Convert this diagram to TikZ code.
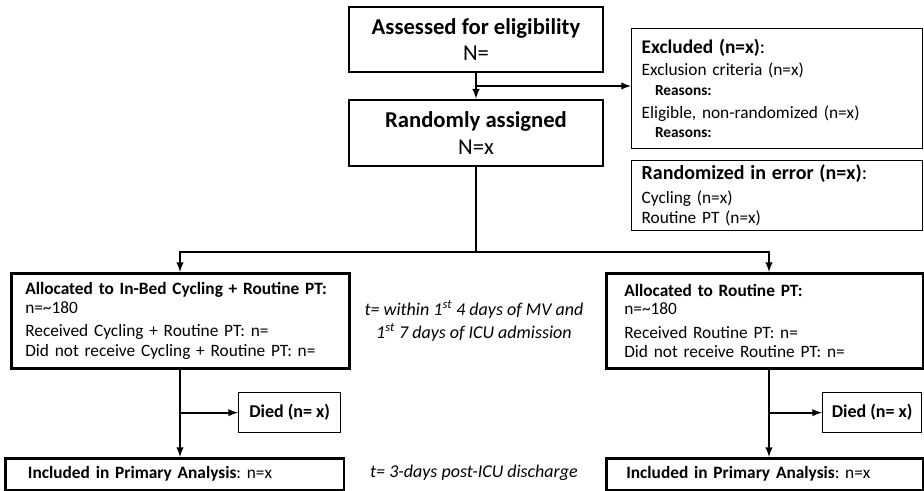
\documentclass[tikz,border=0pt]{standalone}
\usepackage{fontspec}
\setmainfont{Carlito}
\frenchspacing
\usetikzlibrary{positioning, calc}

\begin{document}
\begin{tikzpicture}[x=0.75pt, y=-0.75pt,
    mainbox/.style={draw, line width=1.9pt, rectangle, inner ysep=0pt},
    sidebox/.style={draw, line width=1pt, rectangle, inner ysep=0pt},
    arr/.style={->, >=latex, line width=1.5pt},
    big/.style={font=\fontsize{17}{20}\selectfont},
    small/.style={font=\fontsize{13}{16.5}\selectfont}]
  \useasboundingbox (0,0) rectangle (924,491);
  % top column
  \node[mainbox, big, align=center, minimum width=190.5pt, minimum height=48.75pt]
    (assess) at (476,39.5) {\textbf{Assessed for eligibility}\\N=};
  \node[mainbox, big, align=center, minimum width=190.5pt, minimum height=49.5pt]
    (rand) at (476,133) {\textbf{Randomly assigned}\\N=x};
  % side boxes
  \node[sidebox, small, anchor=north west, align=left, inner xsep=7.5pt,
        text width=203.25pt, minimum height=90pt] (excl) at (631,28) {%
    {\fontsize{14.5}{16.5}\selectfont\textbf{Excluded (n=x)}:}\\
    Exclusion criteria (n=x)\\[-2pt]
    \hspace*{10pt}{\fontsize{11.5}{12}\selectfont\textbf{Reasons:}}\\[1pt]
    Eligible, non-randomized (n=x)\\[-2pt]
    \hspace*{10pt}{\fontsize{11.5}{12}\selectfont\textbf{Reasons:}}};
  \node[sidebox, small, anchor=north west, align=left, inner xsep=7.5pt,
        text width=203.25pt, minimum height=52.5pt] (err) at (631,160) {%
    {\fontsize{15}{16.5}\selectfont\textbf{Randomized in error (n=x)}:}\\[1.5pt]
    Cycling (n=x)\\[-1.5pt]
    Routine PT (n=x)};
  % arms
  \node[mainbox, small, anchor=north west, align=left, inner xsep=10.5pt,
        text width=232.5pt, minimum height=71.25pt] (allocL) at (10,272) {%
    \textbf{Allocated to In-Bed Cycling + Routine PT:}\\[-2.5pt]
    n=\textasciitilde180\\[1pt]
    Received Cycling + Routine PT: n=\\[-2pt]
    Did not receive Cycling + Routine PT: n=};
  \node[mainbox, small, anchor=north west, align=left, inner xsep=13.5pt,
        text width=210.75pt, minimum height=71.25pt] (allocR) at (605,272) {%
    \textbf{Allocated to Routine PT:}\\[-2.5pt]
    n=\textasciitilde180\\[1pt]
    Received Routine PT: n=\\[-2pt]
    Did not receive Routine PT: n=};
  \node[sidebox, anchor=north west, minimum width=76.5pt,
        font=\fontsize{13.5}{16}\selectfont,
        minimum height=30pt] (diedL) at (238,392) {\textbf{Died (n= x)}};
  \node[sidebox, anchor=north west, minimum width=74.25pt,
        font=\fontsize{13.5}{16}\selectfont,
        minimum height=30pt] (diedR) at (822,392) {\textbf{Died (n= x)}};
  \node[mainbox, anchor=north west, align=left, inner xsep=17pt,
        font=\fontsize{13}{15}\selectfont,
        text width=220pt, minimum height=24pt] (inclL) at (4,457) {%
    \textbf{Included in Primary Analysis}: n=x};
  \node[mainbox, anchor=north west, align=left, inner xsep=15pt,
        font=\fontsize{13}{15}\selectfont,
        text width=207.75pt, minimum height=24pt] (inclR) at (605,457) {%
    \textbf{Included in Primary Analysis}: n=x};
  % timing notes
  \node[align=center, font=\itshape\fontsize{13.5}{17}\selectfont]
    (tstart) at (474,321) {t= within 1\textsuperscript{st} 4 days of MV and\\
    1\textsuperscript{st} 7 days of ICU admission};
  \node[font=\itshape\fontsize{13.5}{17}\selectfont]
    (tend) at (474,473) {t= 3-days post-ICU discharge};
  % connectors
  \coordinate (split) at ($(assess.south)!0.5!(rand.north)$);
  \coordinate (fork) at (476,252);
  \coordinate (laneL) at (180,0);
  \coordinate (laneR) at (769,0);
  \draw[arr] (assess) -- (rand);
  \draw[arr] (split) -- (split -| excl.west);
  \draw[line width=1.5pt] (rand) -- (fork);
  \draw[arr] (fork) -| (laneL |- allocL.north);
  \draw[arr] (fork) -| (laneR |- allocR.north);
  \draw[arr] (laneL |- allocL.south) -- (laneL |- inclL.north);
  \draw[arr] (laneL |- diedL.west) -- (diedL.west);
  \draw[arr] (laneR |- allocR.south) -- (laneR |- inclR.north);
  \draw[arr] (laneR |- diedR.west) -- (diedR.west);
\end{tikzpicture}
\end{document}
